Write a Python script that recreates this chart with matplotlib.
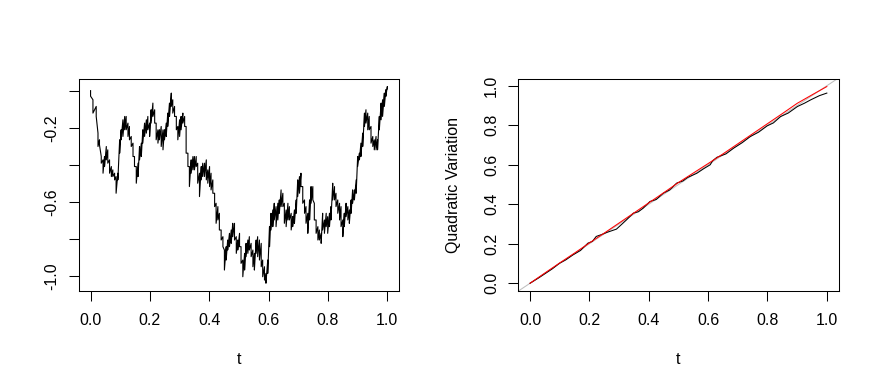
import numpy as np
import matplotlib
matplotlib.use("Agg")
import matplotlib.pyplot as plt

plt.rcParams['font.family'] = ['Liberation Sans', 'DejaVu Sans']

# ---- Left panel: Brownian path, read column by column (t, upper, lower) ----
bm_t = [0.000, 0.008, 0.019, 0.025, 0.030, 0.036, 0.042, 0.047, 0.053, 0.058, 0.064, 0.070, 0.075,
        0.081, 0.086, 0.092, 0.098, 0.103, 0.109, 0.115, 0.120, 0.126, 0.131, 0.137, 0.143, 0.148,
        0.154, 0.160, 0.165, 0.171, 0.176, 0.182, 0.188, 0.193, 0.199, 0.204, 0.210, 0.216, 0.221,
        0.227, 0.232, 0.238, 0.244, 0.249, 0.255, 0.260, 0.266, 0.272, 0.277, 0.283, 0.289, 0.294,
        0.300, 0.305, 0.311, 0.317,
        0.322, 0.328, 0.333, 0.339, 0.345, 0.350, 0.356, 0.361, 0.367, 0.373, 0.378, 0.384, 0.390,
        0.395, 0.401, 0.406, 0.412, 0.418, 0.423, 0.429, 0.434, 0.440, 0.446, 0.451, 0.457, 0.462,
        0.468, 0.474, 0.479, 0.485,
        0.491, 0.496, 0.502, 0.507, 0.513, 0.519, 0.524, 0.530, 0.535, 0.541, 0.547, 0.552, 0.558,
        0.563, 0.569, 0.575, 0.580, 0.586, 0.591, 0.597, 0.603, 0.608, 0.614, 0.619, 0.625, 0.631,
        0.636, 0.642, 0.648, 0.653,
        0.659, 0.665, 0.670, 0.676, 0.681, 0.687, 0.693, 0.698, 0.704, 0.709, 0.715, 0.721, 0.726,
        0.732, 0.738, 0.743, 0.749, 0.754, 0.760, 0.766, 0.771, 0.777, 0.782, 0.788, 0.794, 0.799,
        0.805, 0.810, 0.816, 0.822, 0.827,
        0.833, 0.839, 0.844, 0.850, 0.855, 0.861, 0.867, 0.872, 0.878, 0.883, 0.889, 0.895, 0.900,
        0.906, 0.911, 0.917, 0.923, 0.928, 0.934, 0.939, 0.945, 0.951, 0.956, 0.962, 0.967, 0.973,
        0.979, 0.984, 0.990, 0.995, 1.000]
bm_hi = [0.000, -0.049, -0.085, -0.229, -0.265, -0.355, -0.373, -0.355, -0.301, -0.319, -0.373, -0.409, -0.427,
         -0.445, -0.463, -0.445, -0.265, -0.211, -0.157, -0.139, -0.139, -0.175, -0.193, -0.247, -0.283, -0.355,
         -0.409, -0.391, -0.301, -0.283, -0.211, -0.175, -0.157, -0.139, -0.175, -0.103, -0.067, -0.103, -0.175,
         -0.211, -0.211, -0.193, -0.211, -0.211, -0.175, -0.121, -0.067, -0.013, -0.049, -0.085, -0.139, -0.193,
         -0.157, -0.139, -0.121, -0.139,
         -0.193, -0.337, -0.409, -0.373, -0.355, -0.355, -0.355, -0.391, -0.445, -0.409, -0.391, -0.391, -0.373,
         -0.427, -0.409, -0.445, -0.481, -0.553, -0.607, -0.625, -0.661, -0.751, -0.787, -0.859, -0.841, -0.805,
         -0.769, -0.751, -0.715, -0.715,
         -0.787, -0.805, -0.769, -0.841, -0.913, -0.877, -0.823, -0.805, -0.787, -0.823, -0.859, -0.877, -0.805,
         -0.787, -0.805, -0.823, -0.913, -0.949, -0.985, -0.913, -0.733, -0.661, -0.643, -0.607, -0.625, -0.607,
         -0.589, -0.535, -0.553, -0.607,
         -0.643, -0.607, -0.625, -0.661, -0.679, -0.643, -0.589, -0.481, -0.463, -0.445, -0.517, -0.589, -0.625,
         -0.661, -0.589, -0.517, -0.517, -0.607, -0.697, -0.733, -0.751, -0.769, -0.661, -0.697, -0.661, -0.679,
         -0.661, -0.625, -0.499, -0.517, -0.553,
         -0.589, -0.607, -0.625, -0.697, -0.661, -0.607, -0.625, -0.643, -0.589, -0.535, -0.535, -0.481, -0.355,
         -0.337, -0.283, -0.229, -0.121, -0.103, -0.121, -0.139, -0.193, -0.247, -0.265, -0.247, -0.265, -0.139,
         -0.067, -0.049, -0.013, 0.005, 0.022]
bm_lo = [-0.030, -0.121, -0.139, -0.301, -0.292, -0.391, -0.445, -0.409, -0.373, -0.391, -0.445, -0.463, -0.463,
         -0.481, -0.553, -0.481, -0.337, -0.265, -0.247, -0.211, -0.211, -0.247, -0.265, -0.301, -0.355, -0.409,
         -0.499, -0.463, -0.373, -0.355, -0.283, -0.247, -0.229, -0.211, -0.247, -0.175, -0.139, -0.175, -0.265,
         -0.283, -0.265, -0.301, -0.319, -0.265, -0.247, -0.193, -0.139, -0.085, -0.121, -0.139, -0.211, -0.265,
         -0.247, -0.211, -0.175, -0.193,
         -0.337, -0.409, -0.517, -0.445, -0.427, -0.427, -0.409, -0.499, -0.571, -0.481, -0.463, -0.463, -0.481,
         -0.499, -0.517, -0.535, -0.553, -0.625, -0.715, -0.697, -0.751, -0.805, -0.841, -0.967, -0.913, -0.859,
         -0.841, -0.823, -0.787, -0.805,
         -0.877, -0.859, -0.841, -0.931, -1.003, -0.967, -0.895, -0.877, -0.859, -0.895, -0.949, -0.967, -0.877,
         -0.895, -0.913, -0.949, -1.003, -1.021, -1.038, -0.985, -0.841, -0.751, -0.733, -0.697, -0.733, -0.697,
         -0.661, -0.625, -0.625, -0.715,
         -0.733, -0.697, -0.697, -0.751, -0.733, -0.715, -0.661, -0.571, -0.553, -0.517, -0.607, -0.661, -0.715,
         -0.769, -0.697, -0.607, -0.589, -0.697, -0.769, -0.805, -0.805, -0.823, -0.751, -0.769, -0.733, -0.769,
         -0.733, -0.697, -0.589, -0.589, -0.625,
         -0.661, -0.697, -0.733, -0.787, -0.733, -0.679, -0.697, -0.715, -0.661, -0.607, -0.589, -0.553, -0.409,
         -0.373, -0.355, -0.301, -0.193, -0.175, -0.211, -0.211, -0.283, -0.301, -0.319, -0.319, -0.319, -0.211,
         -0.157, -0.139, -0.085, -0.031, 0.010]

# ---- Right panel: quadratic variation ----
qv_t = [0.000, 0.030, 0.050, 0.075, 0.099, 0.120, 0.144, 0.170, 0.195, 0.210, 0.223, 0.240, 0.260,
        0.291, 0.310, 0.325, 0.348, 0.365, 0.381, 0.404, 0.425, 0.449, 0.470, 0.494, 0.515, 0.530,
        0.562, 0.585, 0.607, 0.615, 0.630, 0.660, 0.686, 0.715, 0.742, 0.770, 0.799, 0.820, 0.844,
        0.870, 0.901, 0.925, 0.946, 0.975, 1.000]
qv_black = [0.000, 0.028, 0.048, 0.073, 0.101, 0.118, 0.143, 0.166, 0.203, 0.212, 0.237, 0.246, 0.258,
            0.274, 0.300, 0.321, 0.355, 0.362, 0.380, 0.414, 0.424, 0.456, 0.472, 0.507, 0.518, 0.535,
            0.557, 0.580, 0.600, 0.620, 0.638, 0.655, 0.684, 0.712, 0.743, 0.765, 0.797, 0.812, 0.844,
            0.862, 0.895, 0.912, 0.929, 0.950, 0.963]
red_t = [0.00, 0.05, 0.10, 0.15, 0.20, 0.25, 0.30, 0.35, 0.40, 0.45, 0.50, 0.55, 0.60, 0.65, 0.70,
         0.75, 0.80, 0.85, 0.90, 0.95, 1.00]
red_v = [0.000, 0.052, 0.103, 0.153, 0.204, 0.254, 0.305, 0.356, 0.407, 0.458, 0.510, 0.558, 0.606,
         0.655, 0.706, 0.757, 0.808, 0.859, 0.911, 0.954, 0.996]

left_yticks = [-1.0, -0.8, -0.6, -0.4, -0.2, 0.0]
left_ylabels = ["-1.0", "", "-0.6", "", "-0.2", ""]
xticks = [0.0, 0.2, 0.4, 0.6, 0.8, 1.0]
xlabels = ["0.0", "0.2", "0.4", "0.6", "0.8", "1.0"]
right_yticks = [0.0, 0.2, 0.4, 0.6, 0.8, 1.0]
right_ylabels = ["0.0", "0.2", "0.4", "0.6", "0.8", "1.0"]

# interleave upper/lower readings to form the jagged path
path_t = np.repeat(np.array(bm_t), 2)
path_v = np.column_stack([bm_hi, bm_lo]).ravel()

W, H = 879, 389
fig = plt.figure(figsize=(W / 100, H / 100), dpi=100)

def px_axes(x0, y0, x1, y1):
    return fig.add_axes([x0 / W, 1 - y1 / H, (x1 - x0) / W, (y1 - y0) / H])

ax1 = px_axes(78.7, 78.7, 399.2, 291.1)
ax2 = px_axes(518.2, 78.7, 838.7, 291.1)

ax1.plot(path_t, path_v, color='black', lw=0.8)
ax1.margins(x=0.04, y=0.04)

ax2.axline((0, 0), slope=1, color='#BEBEBE', lw=0.75, zorder=1)
ax2.plot(qv_t, qv_black, color='black', lw=0.75, zorder=2)
ax2.plot(red_t, red_v, color='red', lw=0.75, zorder=3)
ax2.margins(x=0.04, y=0.04)

FS = 11.5
for ax in (ax1, ax2):
    for s in ax.spines.values():
        s.set_linewidth(0.75)
    ax.set_xticks(xticks)
    ax.set_xticklabels(xlabels)
    ax.tick_params(axis='both', direction='out', length=6.9, width=0.75, labelsize=FS)
    ax.tick_params(axis='x', pad=9.0)
    ax.tick_params(axis='y', pad=7.0, labelrotation=90)
    ax.set_xlabel('t', fontsize=FS, labelpad=17.5)

ax1.set_yticks(left_yticks)
ax1.set_yticklabels(left_ylabels)
ax2.set_yticks(right_yticks)
ax2.set_yticklabels(right_ylabels)
ax2.set_ylabel('Quadratic Variation', fontsize=FS, labelpad=16.5)
for ax in (ax1, ax2):
    for lab in ax.get_yticklabels():
        lab.set_va('center')

fig.savefig('out.png', dpi=100)
